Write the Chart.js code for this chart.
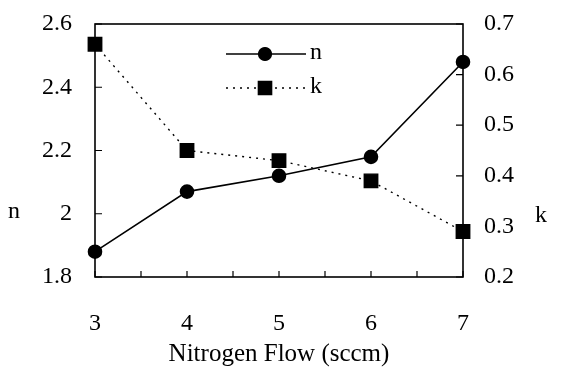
<!DOCTYPE html>
<html>
<head>
<style>
  body { margin: 0; background: #fff; }
  #wrap { width: 564px; height: 373px; }
</style>
</head>
<body>
<div id="wrap"><canvas id="myChart"></canvas></div>
<script src="https://cdn.jsdelivr.net/npm/chart.js@4.4.0/dist/chart.umd.min.js"></script>
<script>
    // values
    var flow = [3, 4, 5, 6, 7];
    var nValues = [1.88, 2.07, 2.12, 2.18, 2.48];
    var kValues = [0.66, 0.45, 0.43, 0.39, 0.29];

    var serif = "'Liberation Serif', 'DejaVu Serif', serif";

    function pts(xs, ys) {
        return xs.map(function (x, i) { return { x: x, y: ys[i] }; });
    }

    // pin the scale sizes so the plot box lands where it is in the picture
    function fixWidth(w) {
        return function (s) {
            s.width = w;
            s.paddingTop = 0;
            s.paddingBottom = 0;
        };
    }

    // inward tick marks, top/right frame, upright axis letters and the inside legend
    var decor = {
        id: 'decor',
        afterDraw: function (chart) {
            var c = chart.ctx, a = chart.chartArea;
            var sx = chart.scales.x, sy = chart.scales.y, sk = chart.scales.y1;
            c.save();
            c.strokeStyle = '#000';
            c.lineWidth = 1.6;
            c.strokeRect(a.left, a.top, a.right - a.left, a.bottom - a.top);
            c.lineWidth = 1.2;
            c.beginPath();
            sx.ticks.forEach(function (t) {
                var px = sx.getPixelForValue(t.value);
                c.moveTo(px, a.bottom); c.lineTo(px, a.bottom - 6);
            });
            sy.ticks.forEach(function (t) {
                var py = sy.getPixelForValue(t.value);
                c.moveTo(a.left, py); c.lineTo(a.left + 7, py);
            });
            sk.ticks.forEach(function (t) {
                var py = sk.getPixelForValue(t.value);
                c.moveTo(a.right, py); c.lineTo(a.right - 7, py);
            });
            c.stroke();

            c.fillStyle = '#000';
            c.font = '24px ' + serif;
            c.textAlign = 'center';
            c.textBaseline = 'middle';
            c.fillText('n', 14, 212);
            c.fillText('k', 541, 216);

            // legend
            chart.data.datasets.forEach(function (ds, i) {
                var y = 54 + i * 34;
                c.save();
                c.lineWidth = ds.borderWidth;
                c.setLineDash(ds.borderDash || []);
                c.beginPath();
                c.moveTo(226, y); c.lineTo(306, y);
                c.stroke();
                c.restore();
                Chart.helpers.drawPoint(c, {
                    pointStyle: ds.pointStyle, radius: ds.pointRadius, borderWidth: 1
                }, 265, y);
                c.fill();
                c.textAlign = 'left';
                c.fillText(ds.label, 310, y - 1);
            });
            c.restore();
        }
    };

    var ctx = document.getElementById('myChart').getContext('2d');
    var myChart = new Chart(ctx, {
        type: 'line',
        data: {
            datasets: [{
                label: 'n',
                data: pts(flow, nValues),
                yAxisID: 'y',
                borderColor: '#000',
                backgroundColor: '#000',
                borderWidth: 1.6,
                pointStyle: 'circle',
                pointRadius: 6.5,
                pointHoverRadius: 6.5,
                clip: false
            }, {
                label: 'k',
                data: pts(flow, kValues),
                yAxisID: 'y1',
                borderColor: '#000',
                backgroundColor: '#000',
                borderWidth: 1.4,
                borderDash: [2, 5],
                pointStyle: 'rect',
                pointRadius: 9.5,
                pointHoverRadius: 9.5,
                clip: false
            }]
        },
        options: {
            responsive: true,
            maintainAspectRatio: false,
            animation: false,
            events: [],
            layout: { padding: { top: 24, right: 0, left: 0, bottom: 0 } },
            plugins: { legend: { display: false }, tooltip: { enabled: false } },
            scales: {
                x: {
                    type: 'linear', min: 3, max: 7,
                    grid: { display: false, drawTicks: false },
                    border: { display: false },
                    ticks: {
                        stepSize: 0.5, padding: 32, color: '#000',
                        font: { family: serif, size: 24 },
                        callback: function (v) { return Number.isInteger(v) ? v : ''; }
                    },
                    title: {
                        display: true, text: 'Nitrogen Flow (sccm)', color: '#000',
                        font: { family: serif, size: 25 }, padding: { top: 3 }
                    },
                    afterFit: function (s) {
                        s.height = 96;
                        s.paddingLeft = 0;
                        s.paddingRight = 0;
                    }
                },
                y: {
                    type: 'linear', position: 'left', min: 1.8, max: 2.6,
                    grid: { display: false, drawTicks: false },
                    border: { display: false },
                    ticks: {
                        stepSize: 0.1, padding: 23, color: '#000',
                        font: { family: serif, size: 24 },
                        callback: function (v) {
                            var r = Math.round(v * 10);
                            return r % 2 === 0 ? String(r / 10) : '';
                        }
                    },
                    afterFit: fixWidth(95)
                },
                y1: {
                    type: 'linear', position: 'right', min: 0.2, max: 0.7,
                    grid: { display: false, drawTicks: false },
                    border: { display: false },
                    ticks: {
                        stepSize: 0.05, padding: 21, color: '#000',
                        font: { family: serif, size: 24 },
                        callback: function (v) {
                            var r = Math.round(v * 100);
                            return r % 10 === 0 ? (r / 100).toFixed(1) : '';
                        }
                    },
                    afterFit: fixWidth(101)
                }
            }
        },
        plugins: [decor]
    });
</script>
</body>
</html>
